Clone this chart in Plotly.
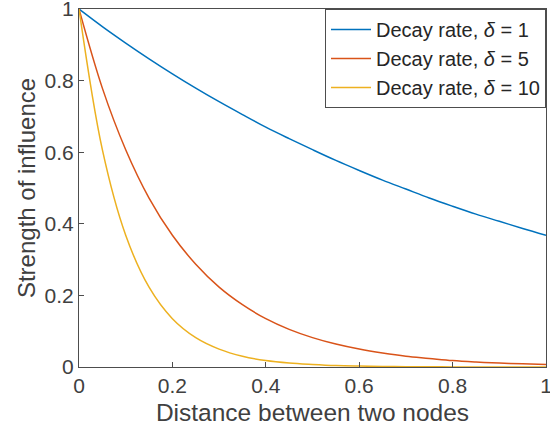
import plotly.graph_objects as go

x_vals = [0, 0.05, 0.1, 0.15, 0.2, 0.25, 0.3, 0.35, 0.4, 0.45, 0.5, 0.55, 0.6, 0.65, 0.7, 0.75, 0.8, 0.85, 0.9, 0.95, 1.0]
decay_1 = [1, 0.951, 0.905, 0.861, 0.819, 0.779, 0.741, 0.705, 0.670, 0.638, 0.607, 0.577, 0.549, 0.522, 0.497, 0.472, 0.449, 0.427, 0.407, 0.387, 0.368]
decay_5 = [1, 0.779, 0.607, 0.472, 0.368, 0.287, 0.223, 0.174, 0.135, 0.105, 0.082, 0.064, 0.050, 0.039, 0.030, 0.024, 0.018, 0.014, 0.011, 0.009, 0.007]
decay_10 = [1, 0.607, 0.368, 0.223, 0.135, 0.082, 0.050, 0.030, 0.018, 0.011, 0.007, 0.004, 0.0025, 0.0015, 0.0009, 0.0006, 0.0003, 0.0002, 0.0001, 0.0001, 0.00005]
names = ["Decay rate, <i>δ</i> = 1", "Decay rate, <i>δ</i> = 5", "Decay rate, <i>δ</i> = 10"]
colors = ["#0072BD", "#D95319", "#EDB120"]
tick_vals = [0, 0.2, 0.4, 0.6, 0.8, 1]
tick_text = ["0", "0.2", "0.4", "0.6", "0.8", "1"]

fig = go.Figure()
for ys, n, c in zip([decay_1, decay_5, decay_10], names, colors):
    fig.add_trace(go.Scatter(x=x_vals, y=ys, mode="lines", name=n,
                             line=dict(color=c, width=1.5, shape="spline", smoothing=1.0)))

axis_common = dict(range=[0, 1], showgrid=False, zeroline=False, showline=True, mirror=True,
                   linecolor="#4d4d4d", linewidth=1, ticks="inside", ticklen=5, tickcolor="#4d4d4d",
                   tickvals=tick_vals, ticktext=tick_text, automargin=False,
                   ticklabeloverflow="allow",
                   tickfont=dict(size=21, color="#404040"))
fig.update_xaxes(**axis_common, title=dict(text="Distance between two nodes", font=dict(size=24.5, color="#404040"), standoff=7))
fig.update_yaxes(**axis_common, title=dict(text="Strength of influence", font=dict(size=24, color="#404040"), standoff=2))

fig.update_layout(
    width=550, height=434,
    margin=dict(l=79, r=4, t=9, b=67),
    paper_bgcolor="white", plot_bgcolor="white",
    font=dict(family="Liberation Sans, Arial, sans-serif", color="#262626"),
    legend=dict(x=1, y=1, xanchor="right", yanchor="top", bordercolor="#4d4d4d", borderwidth=1,
                bgcolor="white", font=dict(size=20, color="#262626"), tracegroupgap=0,
                itemwidth=40),
    showlegend=True,
)
fig.write_html("out.html", config={"displayModeBar": False},
               post_script="document.body.style.margin='0';document.body.style.overflow='hidden';")
